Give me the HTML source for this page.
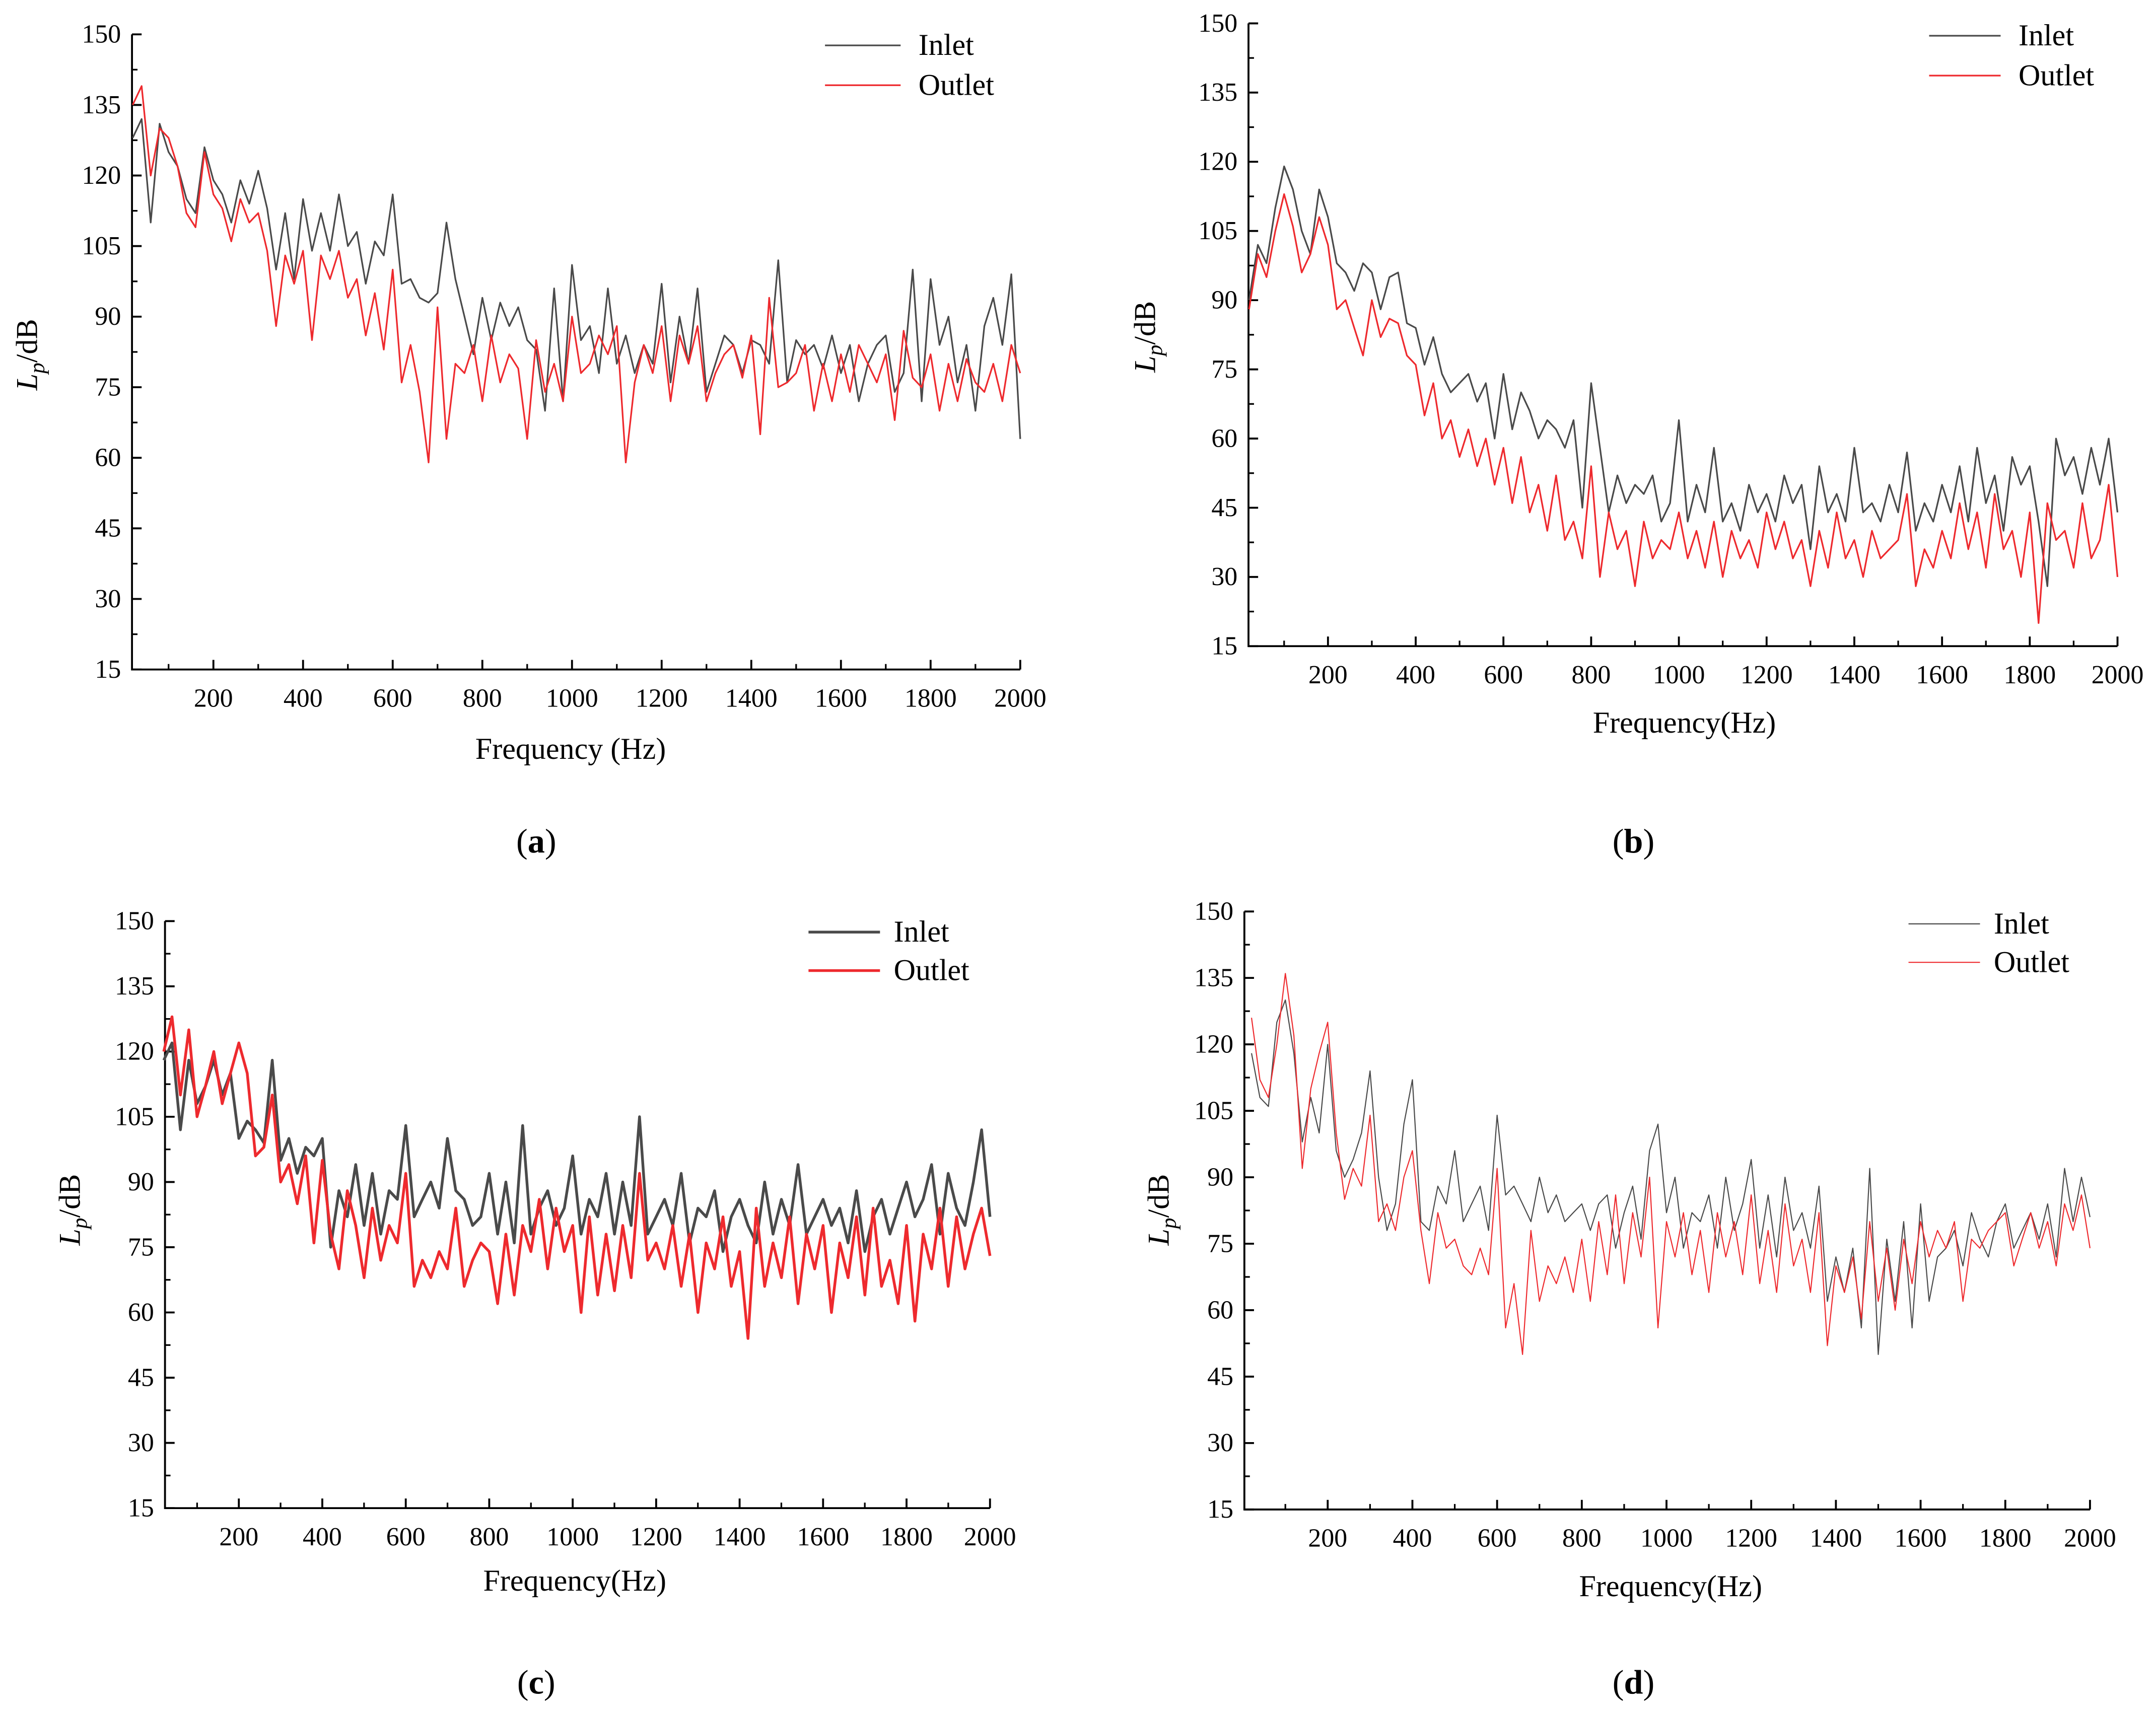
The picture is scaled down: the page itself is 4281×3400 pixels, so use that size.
<!DOCTYPE html>
<html><head><meta charset="utf-8"><style>
html,body{margin:0;padding:0;background:#fff;}
svg{display:block;}
text{font-family:"Liberation Serif",serif;fill:#000;}
</style></head><body>
<svg id="fig" width="4281" height="3400" viewBox="0 0 1568 1245.3" preserveAspectRatio="none"></svg>
<script>
const yTicks=[15,30,45,60,75,90,105,120,135,150];
const xTicks=[200,400,600,800,1000,1200,1400,1600,1800,2000];
const aInlet=[128,132,110,131,125,122,115,112,126,119,116,110,119,114,121,113,100,112,98,115,104,112,104,116,105,108,97,106,103,116,97,98,94,93,95,110,98,90,82,94,85,93,88,92,85,83,70,96,72,101,85,88,78,96,80,86,78,84,80,97,76,90,80,96,74,80,86,84,78,85,84,80,102,76,85,82,84,79,86,78,84,72,80,84,86,74,78,100,72,98,84,90,76,84,70,88,94,84,99,64];
const aOutlet=[135,139,120,130,128,122,112,109,125,116,113,106,115,110,112,104,88,103,97,104,85,103,98,104,94,98,86,95,83,100,76,84,74,59,92,64,80,78,84,72,86,76,82,79,64,85,74,80,72,90,78,80,86,82,88,59,76,84,78,88,72,86,80,88,72,78,82,84,77,86,65,94,75,76,78,84,70,80,72,82,74,84,80,76,82,68,87,77,75,82,70,80,72,81,76,74,80,72,84,78];
const bInlet=[90,102,98,110,119,114,105,100,114,108,98,96,92,98,96,88,95,96,85,84,76,82,74,70,72,74,68,72,60,74,62,70,66,60,64,62,58,64,45,72,58,44,52,46,50,48,52,42,46,64,42,50,44,58,42,46,40,50,44,48,42,52,46,50,36,54,44,48,42,58,44,46,42,50,44,57,40,46,42,50,44,54,42,58,46,52,40,56,50,54,42,28,60,52,56,48,58,50,60,44];
const bOutlet=[88,100,95,105,113,106,96,100,108,102,88,90,84,78,90,82,86,85,78,76,65,72,60,64,56,62,54,60,50,58,46,56,44,50,40,52,38,42,34,54,30,44,36,40,28,42,34,38,36,44,34,40,32,42,30,40,34,38,32,44,36,42,34,38,28,40,32,44,34,38,30,40,34,36,38,48,28,36,32,40,34,46,36,44,32,48,36,40,30,44,20,46,38,40,32,46,34,38,50,30];
const cInlet=[118,122,102,118,108,112,118,110,115,100,104,102,99,118,95,100,92,98,96,100,75,88,82,94,80,92,78,88,86,103,82,86,90,84,100,88,86,80,82,92,78,90,76,103,78,84,88,80,84,96,78,86,82,92,78,90,80,105,78,82,86,80,92,76,84,82,88,74,82,86,80,76,90,78,86,80,94,78,82,86,80,84,76,88,74,82,86,78,84,90,82,86,94,78,92,84,80,90,102,82];
const cOutlet=[120,128,110,125,105,112,120,108,115,122,115,96,98,110,90,94,85,96,76,95,78,70,88,80,68,84,72,80,76,92,66,72,68,74,70,84,66,72,76,74,62,78,64,80,74,86,70,84,74,80,60,82,64,78,65,80,68,92,72,76,70,80,66,78,60,76,70,82,66,74,54,84,66,76,68,82,62,78,70,80,60,76,68,82,64,84,66,72,62,80,58,78,70,84,66,82,70,78,84,73];
const dInlet=[118,108,106,125,130,118,98,108,100,120,96,90,94,100,114,90,78,84,102,112,80,78,88,84,96,80,84,88,78,104,86,88,84,80,90,82,86,80,82,84,78,84,86,74,82,88,76,96,102,82,90,74,82,80,86,74,90,78,84,94,74,86,72,90,78,82,74,88,62,72,64,74,56,92,50,76,62,80,56,84,62,72,74,78,70,82,76,72,80,84,74,78,82,76,84,72,92,80,90,81];
const dOutlet=[126,112,108,120,136,122,92,110,118,125,100,85,92,88,104,80,84,78,90,96,78,66,82,74,76,70,68,74,68,92,56,66,50,78,62,70,66,72,64,76,62,80,68,86,66,82,72,90,56,80,72,82,68,78,64,82,72,80,68,86,66,78,64,84,70,76,64,82,52,70,64,72,58,80,62,74,60,76,66,80,72,78,74,80,62,76,74,78,80,82,70,76,82,74,80,70,84,78,86,74];

const NS='http://www.w3.org/2000/svg';
const svg=document.getElementById('fig');
function mk(tag,attrs,parent){const e=document.createElementNS(NS,tag);for(const k in attrs)e.setAttribute(k,attrs[k]);(parent||svg).appendChild(e);return e;}

const panels=[
 {id:'a',L:96,R:742,x0:90,x2000:742,yTop:25,yBot:487,inlet:aInlet,outlet:aOutlet,lw:1.2,fs:19,ytx:27,yty:258,xtx:415,xty:552,leg:[600,655,668,33,62],lab:[390,620]},
 {id:'b',L:908,R:1540,x0:902,x2000:1540,yTop:17,yBot:470,inlet:bInlet,outlet:bOutlet,lw:1.2,fs:19,ytx:840,yty:245,xtx:1225,xty:533,leg:[1403,1455,1468,26,55],lab:[1188,620]},
 {id:'c',L:120,R:720,x0:113,x2000:720,yTop:670,yBot:1097,inlet:cInlet,outlet:cOutlet,lw:2,fs:19,ytx:58,yty:880,xtx:418,xty:1157,leg:[588,640,650,678,706],lab:[390,1232]},
 {id:'d',L:905,R:1520,x0:904,x2000:1520,yTop:663,yBot:1098,inlet:dInlet,outlet:dOutlet,lw:0.8,fs:19,ytx:850,yty:880,xtx:1215,xty:1161,leg:[1388,1440,1450,672,700],lab:[1188,1232]}
];

panels.forEach(p=>{
  const g=mk('g',{});
  
  
  const xs=v=>p.x0+(p.x2000-p.x0)*v/2000;
  const ys=v=>p.yBot-(p.yBot-p.yTop)*(v-15)/135;
  const ax=mk('path',{d:`M${p.L},${p.yTop}V${p.yBot}H${p.R}`,fill:'none',stroke:'#000','stroke-width':1.4},g);
  
  
  yTicks.forEach((t,i)=>{
    const y=ys(t);
    mk('line',{x1:p.L,x2:p.L+7,y1:y,y2:y,stroke:'#000','stroke-width':1.4},g);
    if(i<yTicks.length-1){const ym=ys(t+7.5);mk('line',{x1:p.L,x2:p.L+4,y1:ym,y2:ym,stroke:'#000','stroke-width':1.2},g);}
    const tx=mk('text',{x:p.L-8,y:y+6,'text-anchor':'end','font-size':p.fs},g);
    tx.textContent=t;
    
    
  });
  xTicks.forEach(t=>{
    const x=xs(t);
    mk('line',{x1:x,x2:x,y1:p.yBot,y2:p.yBot-7,stroke:'#000','stroke-width':1.4},g);
    const xm=xs(t-100);
    if(xm>p.L)mk('line',{x1:xm,x2:xm,y1:p.yBot,y2:p.yBot-4,stroke:'#000','stroke-width':1.2},g);
    const tx=mk('text',{x:x,y:p.yBot+27,'text-anchor':'middle','font-size':p.fs},g);
    tx.textContent=t;
    
    
  });
  const line=(arr,color,name)=>{
    const pts=arr.map((v,i)=>xs(20+i*20).toFixed(1)+','+ys(v).toFixed(1)).join(' ');
    const pl=mk('polyline',{points:pts,fill:'none',stroke:color,'stroke-width':p.lw,'stroke-linejoin':'round'},g);
    
    
  };
  line(p.inlet,'#4a4a4a','inlet');
  line(p.outlet,'#ee2a2e','outlet');
  const [lx1,lx2,ltx,ly1,ly2]=p.leg;
  [['Inlet','#4a4a4a',ly1],['Outlet','#ee2a2e',ly2]].forEach(([n,c,y])=>{
    mk('line',{x1:lx1,x2:lx2,y1:y,y2:y,stroke:c,'stroke-width':p.lw},g);
    const t=mk('text',{x:ltx,y:y+7,'font-size':22},g);
    t.textContent=n;
    
    
  });
  const yt=mk('text',{x:p.ytx,y:p.yty,'font-size':22,'text-anchor':'middle',transform:`rotate(-90 ${p.ytx} ${p.yty})`},g);
  yt.innerHTML='<tspan font-style="italic">L</tspan><tspan font-style="italic" font-size="16" dy="5">p</tspan><tspan dy="-5">/dB</tspan>';
  
  
  const xt=mk('text',{x:p.xtx,y:p.xty,'font-size':22,'text-anchor':'middle'},g);
  xt.textContent=p.id==='a'?'Frequency (Hz)':'Frequency(Hz)';
  
  
  const lb=mk('text',{x:p.lab[0],y:p.lab[1],'font-size':25,'text-anchor':'middle'},g);
  lb.innerHTML='(<tspan font-weight="bold">'+p.id+'</tspan>)';
  
  
});
</script>
</body></html>
